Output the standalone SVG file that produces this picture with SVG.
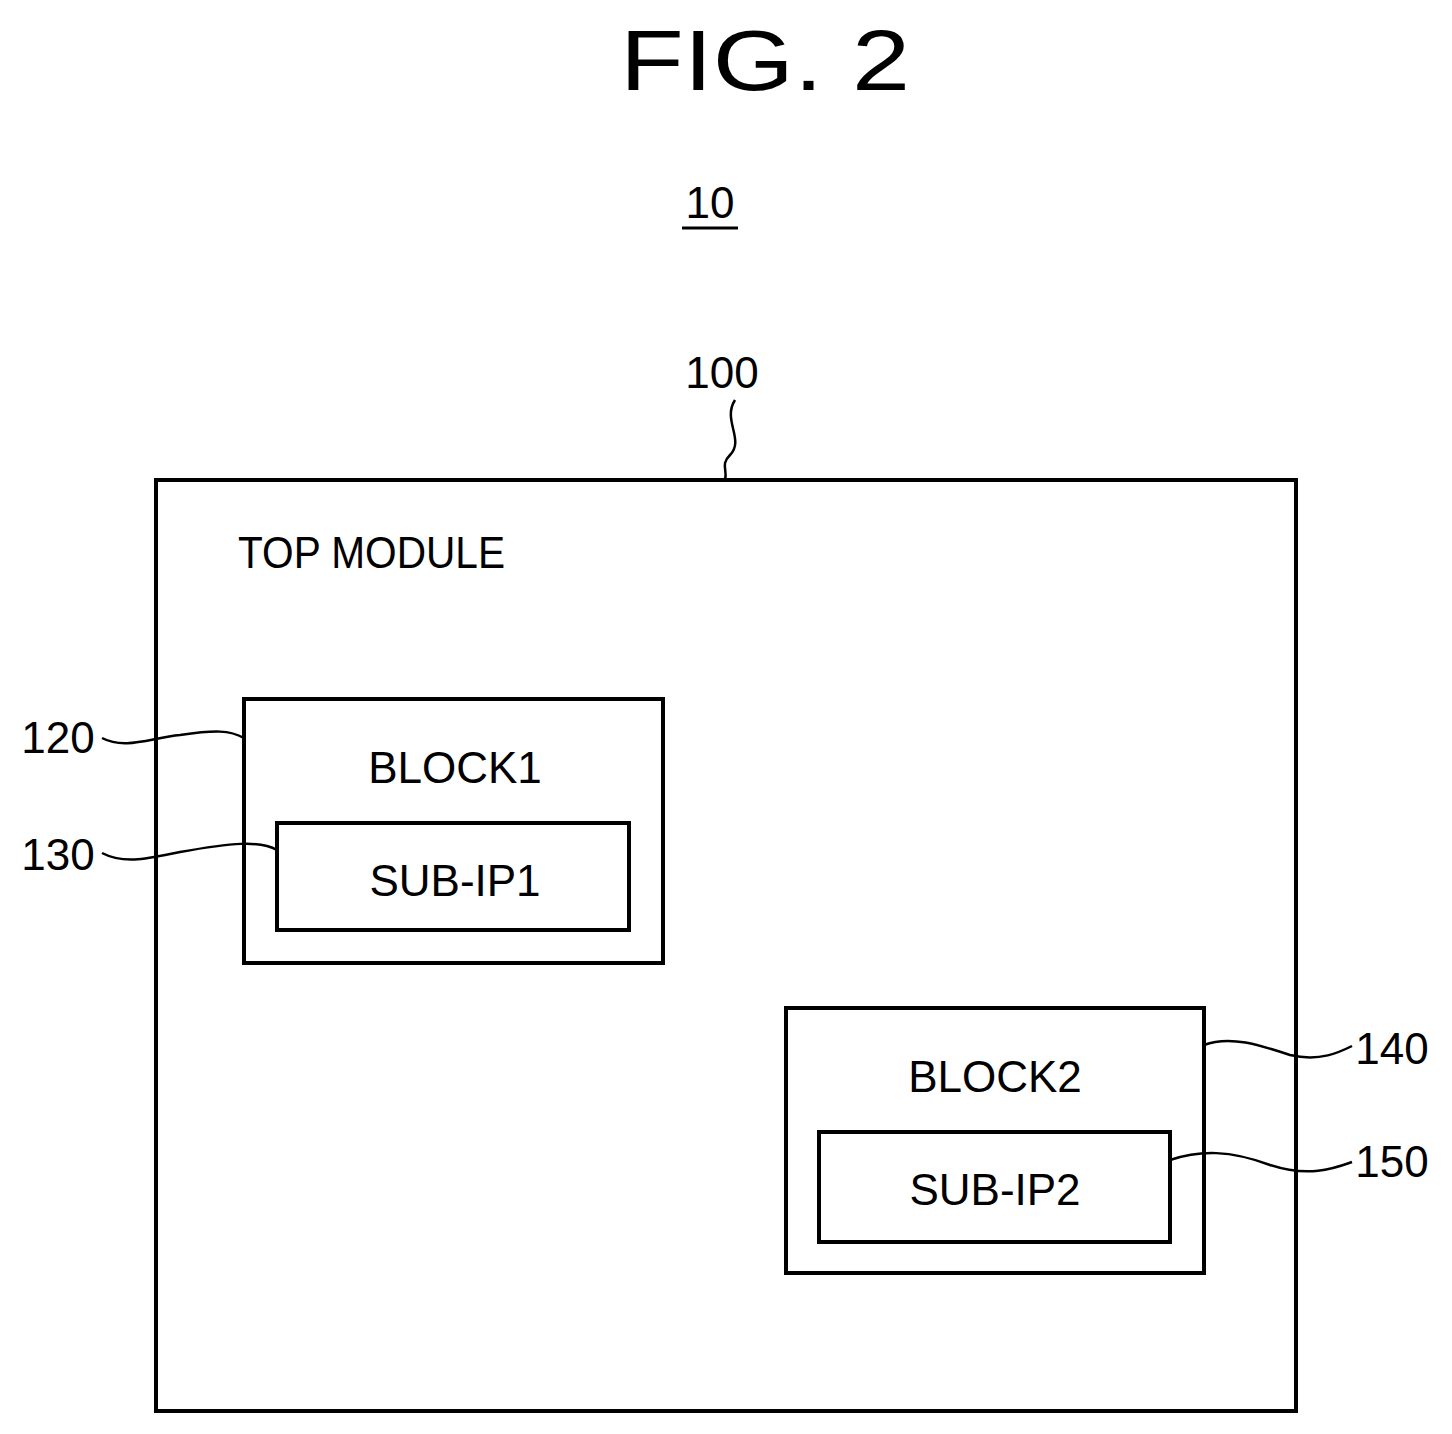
<svg xmlns="http://www.w3.org/2000/svg" width="1452" height="1434" viewBox="0 0 1452 1434">
<style>
.b{fill:none;stroke:#000;stroke-width:4}
.l{fill:none;stroke:#000;stroke-width:2.5}
text{font-family:"Liberation Sans",Arial,sans-serif;fill:#000}
.t{font-size:44px}
.n{font-size:44px}
</style>
<rect width="1452" height="1434" fill="#fff"/>
<text x="620" y="90" font-size="86" textLength="290" lengthAdjust="spacingAndGlyphs">FIG. 2</text>
<text x="710" y="218" class="n" text-anchor="middle">10</text>
<line x1="682" y1="228" x2="738" y2="228" stroke="#000" stroke-width="3"/>
<g id="n100"><rect class="b" x="156" y="480" width="1140" height="931"/>
<text x="238" y="568" class="t" textLength="267" lengthAdjust="spacingAndGlyphs">TOP MODULE</text>
<text x="722" y="388" class="n" text-anchor="middle">100</text></g>
<g id="n120"><rect class="b" x="244" y="699" width="419" height="264"/><text x="455" y="783" class="t" text-anchor="middle">BLOCK1</text><text x="58" y="753" class="n" text-anchor="middle">120</text></g>
<g id="n130"><rect class="b" x="277" y="823" width="352" height="107"/><text x="455" y="896" class="t" text-anchor="middle">SUB-IP1</text><text x="58" y="870" class="n" text-anchor="middle">130</text></g>
<g id="n140"><rect class="b" x="786" y="1008" width="418" height="265"/><text x="995" y="1092" class="t" text-anchor="middle">BLOCK2</text><text x="1392" y="1064" class="n" text-anchor="middle">140</text></g>
<g id="n150"><rect class="b" x="819" y="1132" width="351" height="110"/><text x="995" y="1205" class="t" text-anchor="middle">SUB-IP2</text><text x="1392" y="1177" class="n" text-anchor="middle">150</text></g>
<g id="connectors">
<path class="l" d="M735 400 C722 420 745 440 730 455 C720 465 728 470 725 480"/>
<path class="l" d="M102 738 C125 750 150 738 180 735 C215 730 230 730 244 738"/>
<path class="l" d="M102 853 C125 865 150 858 180 852 C230 843 260 840 277 850"/>
<path class="l" d="M1204 1045 C1230 1035 1260 1045 1290 1055 C1320 1062 1340 1052 1352 1046"/>
<path class="l" d="M1170 1160 C1200 1150 1230 1150 1270 1165 C1310 1178 1335 1168 1352 1162"/>
</g>
</svg>
